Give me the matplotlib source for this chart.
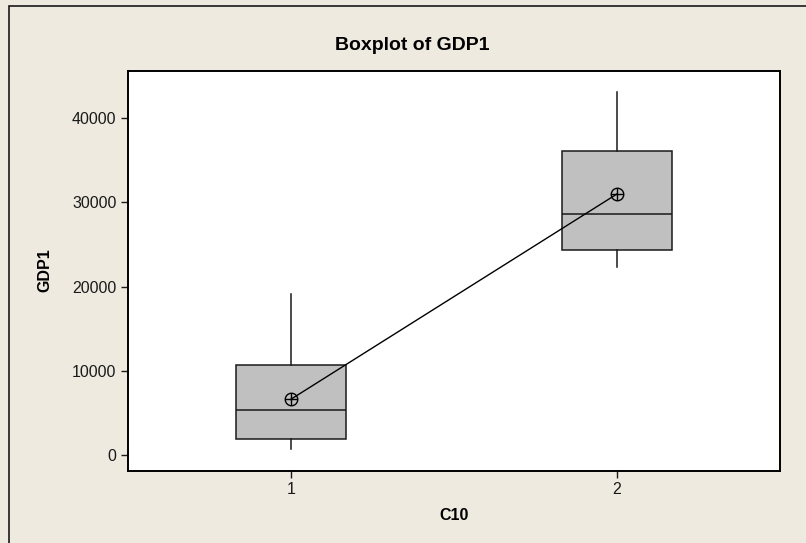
import numpy as np
import matplotlib
matplotlib.use("Agg")
import matplotlib.pyplot as plt
from matplotlib.patches import Rectangle

# five-number summaries and means of GDP1 for each C10 group
groups = [1, 2]
whisker_low = [680, 22350]
q1 = [1860, 24370]
medians = [5340, 28570]
q3 = [10720, 36080]
whisker_high = [19100, 43050]
means = [6610, 30980]
y_ticks = [0, 10000, 20000, 30000, 40000]

plt.rcParams['font.family'] = ['Liberation Sans', 'DejaVu Sans']

W, H = 806, 543
fig = plt.figure(figsize=(W / 100, H / 100), dpi=100)
bg = '#eeeae0'
fig.patch.set_facecolor(bg)

# outer frame, running off the right and bottom edges
fig.patches.append(Rectangle((9 / W, -0.1), 1.2, 1 - 6 / H + 0.1,
                             transform=fig.transFigure, fill=False,
                             edgecolor='#1a1a1a', linewidth=1.2, zorder=0))

left, right, top, bottom = 127.7, 780.0, 70.5, 470.7
ax = fig.add_axes([left / W, 1 - bottom / H, (right - left) / W, (bottom - top) / H])
ax.set_facecolor('white')

stats = []
for i in range(len(groups)):
    stats.append(dict(label=str(groups[i]), whislo=whisker_low[i], q1=q1[i],
                      med=medians[i], q3=q3[i], whishi=whisker_high[i],
                      mean=means[i], fliers=[]))

ax.bxp(stats, positions=groups, widths=0.337, patch_artist=True,
       showcaps=False, showfliers=False, showmeans=False,
       boxprops=dict(facecolor='#c0c0c0', edgecolor='#1a1a1a', linewidth=1.1),
       medianprops=dict(color='#1a1a1a', linewidth=1.1),
       whiskerprops=dict(color='#1a1a1a', linewidth=1.1))

# mean connect line with circle-plus symbols
ax.plot(groups, means, color='black', linewidth=1.0, zorder=4)
ax.plot(groups, means, linestyle='none', marker='o', markersize=9,
        markerfacecolor='none', markeredgecolor='black', markeredgewidth=1.0, zorder=5)
ax.plot(groups, means, linestyle='none', marker='+', markersize=9,
        markeredgecolor='black', markeredgewidth=1.0, zorder=5)

ax.set_xlim(0.5, 2.5)
ax.set_ylim(-1860, 45640)
ax.set_xticks(groups)
ax.set_xticklabels([str(g) for g in groups])
ax.set_yticks(y_ticks)
ax.set_yticklabels([str(v) for v in y_ticks])

for s in ax.spines.values():
    s.set_linewidth(1.4)
    s.set_color('black')
ax.tick_params(direction='out', length=5, width=1.0, labelsize=11.5,
               colors='#1a1a1a', pad=3)

ax.set_xlabel('C10', fontsize=11.5, fontweight='bold', labelpad=8)
ax.set_ylabel('GDP1', fontsize=11.5, fontweight='bold', labelpad=14)
fig.text(412 / W, 1 - 45 / H, 'Boxplot of GDP1', ha='center', va='center',
         fontsize=14, fontweight='bold')

fig.savefig('out.png', dpi=100, facecolor=bg)
